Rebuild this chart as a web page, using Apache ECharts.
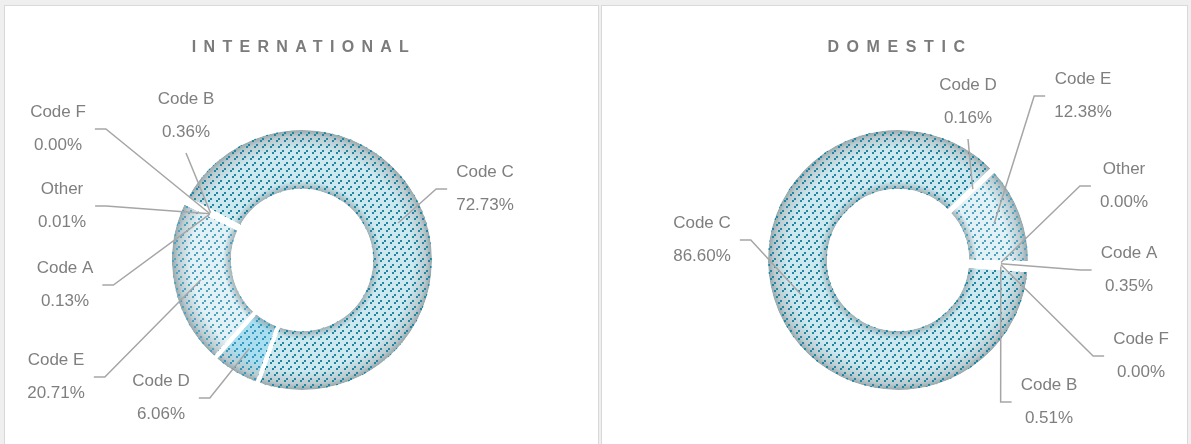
<!DOCTYPE html>
<html>
<head>
<meta charset="utf-8">
<script src="https://cdn.jsdelivr.net/npm/echarts@6/dist/echarts.min.js"></script>
<style>
  html, body { margin: 0; padding: 0; background: #efefef; overflow: hidden; }
  .panel { position: absolute; top: 5px; height: 460px; background: #fff; border: 1px solid #d9d9d9; box-sizing: border-box; }
  .title { position: absolute; top: 38px; width: 600px; text-align: center; line-height: 19px;
           font: bold 16px 'Liberation Sans', Arial, sans-serif; color: #7b7b7b; z-index: 2; }
  #main { position: absolute; left: 0; top: 0; width: 1191px; height: 444px; z-index: 1; }
</style>
</head>
<body>
<div class="panel" style="left:4px;width:595px"></div>
<div class="panel" style="left:601px;width:587px"></div>
<div class="title" style="left:4px;letter-spacing:7.3px">INTERNATIONAL</div>
<div class="title" style="left:600px;letter-spacing:7.6px">DOMESTIC</div>
<div id="main"></div>
<script>
// 国际
var intlNames = ['Code C', 'Code D', 'Code E', 'Code A', 'Other', 'Code F', 'Code B'];
var intlValues = [72.73, 6.06, 20.71, 0.13, 0.01, 0.00, 0.36];
// 国内
var domNames = ['Code C', 'Code D', 'Code E', 'Other', 'Code A', 'Code F', 'Code B'];
var domValues = [86.60, 0.16, 12.38, 0.00, 0.35, 0.00, 0.51];

// label block centre + how the leader meets it ('side' or 'below')
var intlLabelSpots = [[485, 189, 'side'], [161, 398, 'side'], [56, 377, 'side'], [65, 285, 'side'],
                      [62, 206, 'side'], [58, 129, 'side'], [186, 116, 'below']];
var domLabelSpots = [[702, 240, 'side'], [968, 102, 'below'], [1083, 96, 'side'], [1124, 186, 'side'],
                     [1129, 270, 'side'], [1141, 356, 'side'], [1049, 402, 'side']];

var CY = 260, R_IN = 69, R_OUT = 132, R_MID = 103;

var sliceLook = {
  'Code C': { base: '#cde8ef', dot: '#1f87a1' },
  'Code D': { base: '#a9def0', dot: '#3399bd' },
  'Code E': { base: '#e2f1f5', dot: '#4fa3be' },
  'Code A': { base: '#e2f1f5', dot: '#4fa3be' },
  'Code B': { base: '#e2f1f5', dot: '#4fa3be' },
  'Code F': { base: '#e2f1f5', dot: '#4fa3be' },
  'Other':  { base: '#e2f1f5', dot: '#4fa3be' }
};

// "/" dashes: 2px cells, diagonals 4 cells apart, 2 on 1 off along each diagonal
function dotPattern(color) {
  var c = document.createElement('canvas');
  c.width = 8; c.height = 24;
  var ctx = c.getContext('2d');
  ctx.fillStyle = color;
  for (var i = 0; i < 4; i++) {
    for (var j = 0; j < 12; j++) {
      if ((i + j) % 4 === 0 && j % 3 !== 2) ctx.fillRect(i * 2, j * 2, 2, 2);
    }
  }
  return c;
}

function ringShade(cx, base) {
  return {
    type: 'radial', x: cx, y: CY, r: R_OUT, global: true,
    colorStops: [
      { offset: 0, color: base },
      { offset: 0.52, color: '#8ea1a6' },
      { offset: 0.6, color: base },
      { offset: 0.84, color: base },
      { offset: 0.94, color: '#bccbcf' },
      { offset: 1, color: '#889ba0' }
    ]
  };
}

function donut(names, values, cx, startAngle, spots) {
  var border = { borderColor: '#fff', borderWidth: 4 };
  var ring = {
    type: 'pie',
    silent: true,
    center: [cx, CY],
    radius: [R_IN, R_OUT],
    startAngle: startAngle,
    label: { show: false },
    labelLine: { show: false },
    itemStyle: border
  };
  var shade = echarts.util.merge({
    z: 1,
    data: names.map(function (n, i) {
      return { name: n, value: values[i], itemStyle: { color: ringShade(cx, sliceLook[n].base) } };
    })
  }, ring);
  var dots = echarts.util.merge({
    z: 2,
    data: names.map(function (n, i) {
      return { name: n, value: values[i], itemStyle: { color: { image: dotPattern(sliceLook[n].dot), repeat: 'repeat' } } };
    })
  }, ring);
  // empty sectors on top, only here to carry labels + leader lines above the ring
  var labels = {
    type: 'pie',
    silent: true,
    z: 3,
    center: [cx, CY],
    radius: [R_IN, R_OUT],
    startAngle: startAngle,
    avoidLabelOverlap: false,
    itemStyle: { color: 'rgba(0,0,0,0)', borderWidth: 0 },
    data: names.map(function (n, i) { return { name: n, value: values[i] }; }),
    label: {
      show: true,
      formatter: function (p) {
        return p.name + '\n' + p.value.toFixed(2) + '%';
      },
      color: '#7f7f7f',
      fontSize: 17,
      lineHeight: 33,
      fontFamily: "'Liberation Sans', Arial, sans-serif"
    },
    labelLine: { show: true, lineStyle: { color: '#a6a6a6', width: 1.5 } },
    labelLayout: function (p) {
      var s = spots[p.dataIndex];
      var w = p.labelRect.width;
      var p0 = p.labelLinePoints ? p.labelLinePoints[0] : [cx, CY];
      var k = R_MID / R_OUT;
      var start = [cx + (p0[0] - cx) * k, CY + (p0[1] - CY) * k];
      var end, bend;
      if (s[2] === 'below') {
        end = [s[0], s[1] + 37];
        bend = end;
      } else {
        var onLeft = start[0] < s[0];
        var ex = onLeft ? s[0] - w / 2 - 9 : s[0] + w / 2 + 9;
        end = [ex, s[1]];
        bend = [onLeft ? ex - 11 : ex + 11, s[1]];
      }
      return {
        x: s[0], y: s[1], align: 'center', verticalAlign: 'middle',
        labelLinePoints: [start, bend, end]
      };
    }
  };
  return [shade, dots, labels];
}

var chart = echarts.init(document.getElementById('main'), null, { renderer: 'canvas' });
var option = {
  animation: false,
  series: donut(intlNames, intlValues, 302, 152, intlLabelSpots)
    .concat(donut(domNames, domValues, 898, -4.5, domLabelSpots))
};
chart.setOption(option);
</script>
</body>
</html>
